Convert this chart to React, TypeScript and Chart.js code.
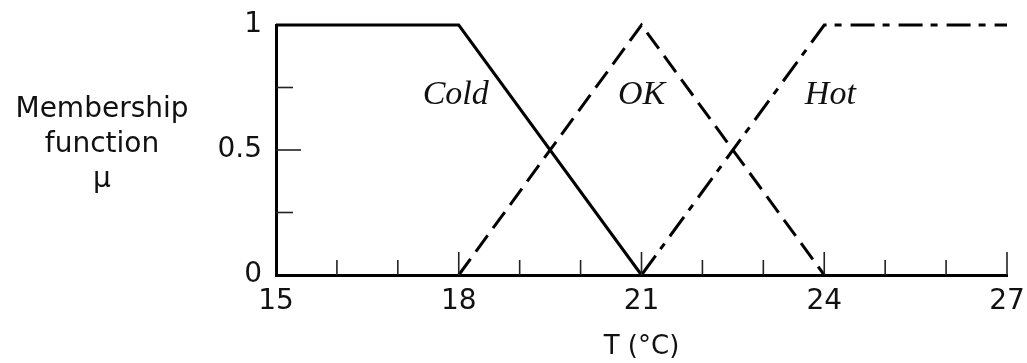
import React, { useEffect, useRef } from 'react';
import { Chart, registerables } from 'chart.js';

Chart.register(...registerables);

// Fuzzy membership functions over temperature
const coldX = [15, 18, 21];
const coldMu = [1, 1, 0];
const okX = [18, 21, 24];
const okMu = [0, 1, 0];
const hotX = [21, 24, 27];
const hotMu = [0, 1, 1];

// Axis ticks
const xMin = 15;
const xMax = 27;
const xLabelled = [15, 18, 21, 24, 27];
const yLabelled = [0, 0.5, 1];

// Set names written inside the plot, in data units
const setNames = ['Cold', 'OK', 'Hot'];
const setLabelX = [17.95, 21.0, 24.1];
const setLabelY = [0.72, 0.72, 0.72];

const yAxisLines = ['Membership', 'function', 'μ'];
const xAxisTitle = 'T (°C)';

const SANS = '"DejaVu Sans", sans-serif';

const pts = (xs: number[], ys: number[]) => xs.map((x, i) => ({ x, y: ys[i] }));

// Short tick marks pointing into the plot, plus the set names and the side label
const decorations = {
  id: 'decorations',
  afterDatasetsDraw(chart: any) {
    const { ctx, scales } = chart;
    const x = scales.x;
    const y = scales.y;
    ctx.save();
    ctx.strokeStyle = '#222';
    ctx.lineWidth = 1.6;
    x.ticks.forEach((t: any) => {
      if (t.value === x.min) return;
      const px = x.getPixelForValue(t.value);
      const len = xLabelled.includes(t.value) ? 23 : 15;
      ctx.beginPath();
      ctx.moveTo(px, y.bottom);
      ctx.lineTo(px, y.bottom - len);
      ctx.stroke();
    });
    y.ticks.forEach((t: any) => {
      if (t.value === y.min || t.value === y.max) return;
      const py = y.getPixelForValue(t.value);
      const len = t.value === 0.5 ? 25 : 17;
      ctx.beginPath();
      ctx.moveTo(x.left, py);
      ctx.lineTo(x.left + len, py);
      ctx.stroke();
    });

    ctx.fillStyle = '#111';
    ctx.textAlign = 'center';
    ctx.textBaseline = 'middle';
    ctx.font = 'italic 34px "Liberation Serif", serif';
    setNames.forEach((name, i) => {
      ctx.fillText(name, x.getPixelForValue(setLabelX[i]), y.getPixelForValue(setLabelY[i]));
    });

    ctx.font = `28px ${SANS}`;
    ctx.textBaseline = 'alphabetic';
    yAxisLines.forEach((line, i) => {
      ctx.fillText(line, 102, 117 + i * 35);
    });
    ctx.restore();
  },
};

export default function App() {
  const canvasRef = useRef<HTMLCanvasElement | null>(null);

  useEffect(() => {
    document.body.style.margin = '0';
    const canvas = canvasRef.current;
    if (!canvas) return;
    const lineBase = {
      showLine: true,
      pointRadius: 0,
      borderColor: '#000',
      borderWidth: 3,
      fill: false,
      tension: 0,
      clip: false as const,
    };
    const chart = new Chart(canvas, {
      type: 'scatter',
      data: {
        datasets: [
          { ...lineBase, label: setNames[0], data: pts(coldX, coldMu) },
          { ...lineBase, label: setNames[1], data: pts(okX, okMu), borderDash: [20, 9] },
          { ...lineBase, label: setNames[2], data: pts(hotX, hotMu), borderDash: [24, 8, 7, 9] },
        ],
      },
      options: {
        responsive: false,
        animation: false,
        events: [],
        layout: { padding: { left: 0, top: 25, right: 20, bottom: 0 } },
        plugins: {
          legend: { display: false },
          tooltip: { enabled: false },
          title: { display: false },
        },
        scales: {
          x: {
            type: 'linear',
            min: xMin,
            max: xMax,
            grid: { display: false, drawTicks: false },
            border: { display: true, color: '#000', width: 3 },
            ticks: {
              stepSize: 1,
              autoSkip: false,
              maxRotation: 0,
              padding: 10,
              color: '#111',
              font: { family: SANS, size: 28 },
              callback: (v: any) => (xLabelled.includes(Number(v)) ? String(v) : ''),
            },
            title: {
              display: true,
              text: xAxisTitle,
              color: '#111',
              font: { family: SANS, size: 26 },
              padding: { top: 0, bottom: 0 },
            },
            afterFit: (s: any) => {
              s.height = 88;
              s.paddingLeft = 0;
              s.paddingRight = 0;
            },
          },
          y: {
            type: 'linear',
            min: 0,
            max: 1,
            grid: { display: false, drawTicks: false },
            border: { display: true, color: '#000', width: 3 },
            ticks: {
              stepSize: 0.25,
              padding: 14,
              color: '#111',
              font: { family: SANS, size: 28 },
              callback: (v: any) => (yLabelled.includes(Number(v)) ? String(v) : ''),
            },
            afterFit: (s: any) => {
              s.width = 276;
              s.paddingTop = 0;
              s.paddingBottom = 0;
            },
          },
        },
      },
      plugins: [decorations],
    });
    return () => chart.destroy();
  }, []);

  return (
    <div style={{ position: 'absolute', left: 0, top: 0, width: 1027, height: 363, background: '#fff' }}>
      <canvas ref={canvasRef} width={1027} height={363} />
    </div>
  );
}
